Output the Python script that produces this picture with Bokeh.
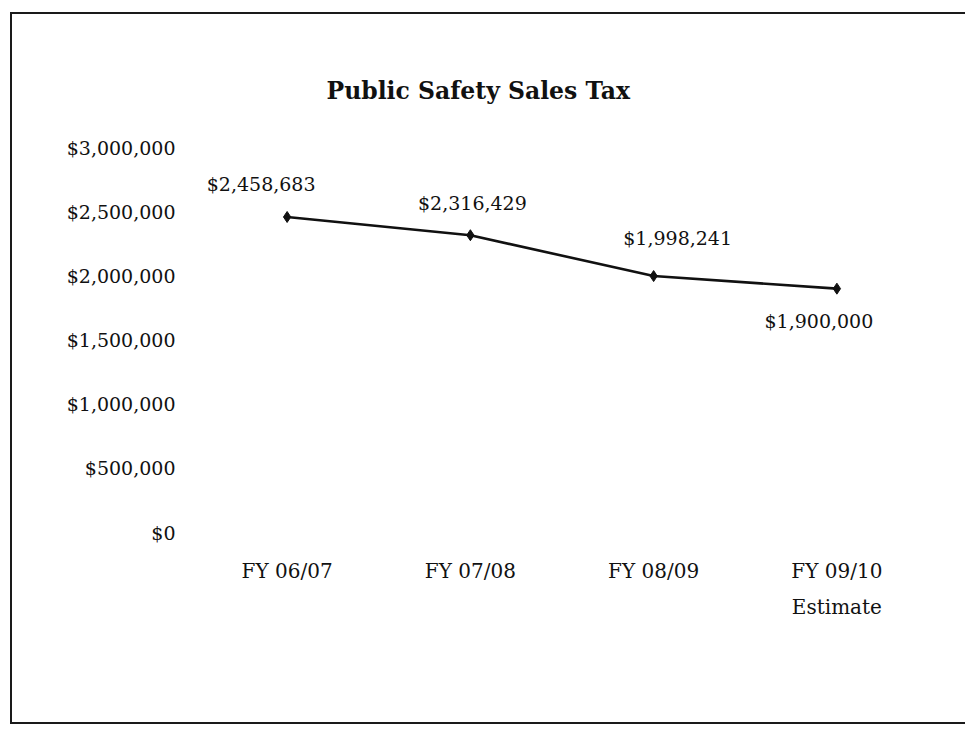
from bokeh.plotting import figure
from bokeh.models import ColumnDataSource, Range1d, FactorRange, FixedTicker
from bokeh.core.properties import value
from bokeh.embed import file_html
from bokeh.resources import INLINE

# ---- data ----
categories = ["FY 06/07", "FY 07/08", "FY 08/09", "FY 09/10\nEstimate"]
revenue = [2458683, 2316429, 1998241, 1900000]
revenue_labels = ["$2,458,683", "$2,316,429", "$1,998,241", "$1,900,000"]
y_tick_values = [0, 500000, 1000000, 1500000, 2000000, 2500000, 3000000]
y_tick_labels = ["$0", "$500,000", "$1,000,000", "$1,500,000", "$2,000,000", "$2,500,000", "$3,000,000"]
title_text = "Public Safety Sales Tax"

# ---- styling (label placement in screen pixels) ----
label_dx = [-26, 2, 24, -18]
label_dy = [-33, -32, -38, 32]
FONT = "DejaVu Serif"
INK = "#111111"

OX, OY = 12, 14            # page offset of the canvas (inside the drawn page border)
W, H = 955, 712
FL, FR, FT, FB = 195 - OX, 928 - OX, 147 - OY, 532 - OY  # plot-area edges in canvas pixels

src = ColumnDataSource(dict(cat=categories, val=revenue, lab=revenue_labels,
                            dx=label_dx, dy=label_dy))

p = figure(width=W, height=H, x_range=FactorRange(factors=categories, range_padding=0),
           y_range=Range1d(0, 3000000), output_backend="svg", toolbar_location=None,
           min_border_left=FL, min_border_right=W - FR, min_border_top=FT, min_border_bottom=H - FB)
p.styles = {"margin-left": "10px", "margin-top": "12px",
            "border-left": "2px solid #1a1a1a", "border-top": "2px solid #1a1a1a",
            "border-bottom": "2px solid #1a1a1a"}
p.outline_line_color = None
p.background_fill_color = "white"
p.border_fill_color = "white"
p.xgrid.visible = False
p.ygrid.visible = False

p.title.text = title_text
p.title.text_font = FONT
p.title.text_font_size = "23.5px"
p.title.text_font_style = "bold"
p.title.text_color = INK
p.title.align = "left"
p.title.offset = 131
p.title.standoff = 85

for ax in (p.xaxis[0], p.yaxis[0]):
    ax.axis_line_color = None
    ax.major_tick_line_color = None
    ax.minor_tick_line_color = None
    ax.major_tick_out = 0
    ax.major_tick_in = 0
    ax.major_label_text_font = FONT
    ax.major_label_text_color = INK

p.yaxis.ticker = FixedTicker(ticks=y_tick_values)
p.yaxis.major_label_overrides = {v: s for v, s in zip(y_tick_values, y_tick_labels)}
p.yaxis.major_label_text_font_size = "19px"
p.yaxis.major_label_standoff = 20

p.xaxis.major_label_text_font_size = "20px"
p.xaxis.major_label_standoff = 26
p.xaxis.major_label_text_line_height = 1.5
p.xaxis.major_label_orientation = "horizontal"

p.line("cat", "val", source=src, line_color=INK, line_width=2.6)
p.scatter("cat", "val", source=src, marker="diamond", size=11, color=INK)
p.text("cat", "val", text="lab", source=src, x_offset="dx", y_offset="dy",
       text_font=value(FONT), text_font_size="19px", text_color=INK,
       text_align="center", text_baseline="middle")

open("out.html", "w").write(file_html(p, INLINE))
